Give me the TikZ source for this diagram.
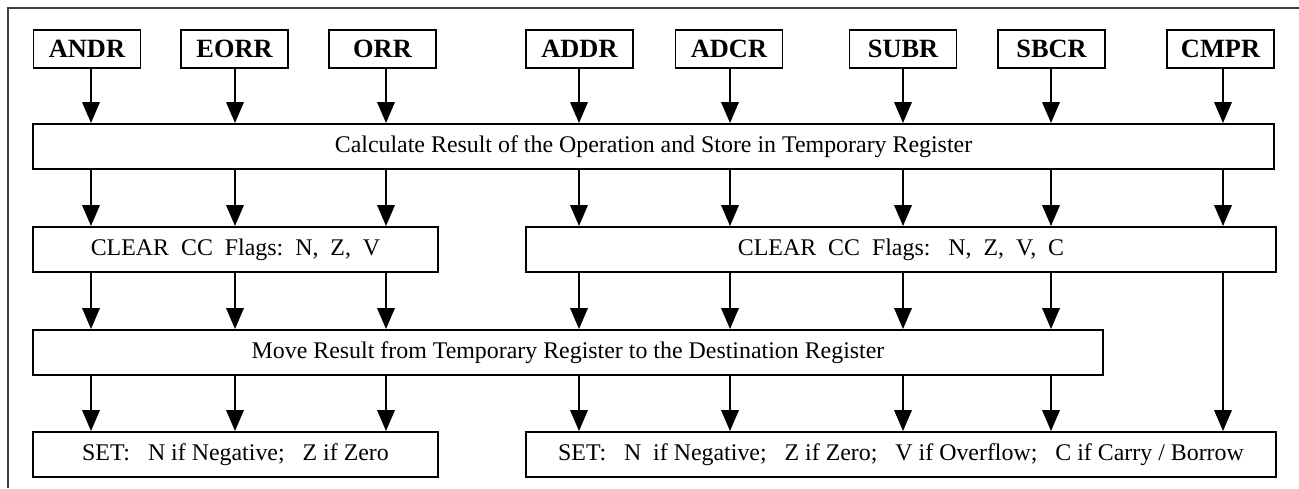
\documentclass[tikz,border=0pt]{standalone}
\usepackage{fontspec}
\setmainfont{Liberation Serif}
\usetikzlibrary{arrows.meta}

\tikzset{
  opbox/.style={draw, line width=1.1pt, font=\fontsize{15}{18}\selectfont\bfseries,
    minimum width=2.14cm, minimum height=0.76cm, inner sep=0pt},
  stagebox/.style={draw, line width=1.1pt, font=\fontsize{13.6}{16}\selectfont,
    minimum height=0.9cm, inner sep=0pt},
  flow/.style={-{Triangle[length=4.2mm,width=3.5mm]}, line width=1.1pt}
}

\begin{document}
\begin{tikzpicture}[x=0.02cm, y=-0.02cm]
  \useasboundingbox (0,0) rectangle (1299,488);
  % Frame
  \draw[black!75, line width=0.6pt] (8,488) -- (8,8) -- (1299,8);
  % Instruction boxes
  \node[opbox] (andr) at (87,49) {ANDR};
  \node[opbox] (eorr) at (234.5,49) {EORR};
  \node[opbox] (orr) at (382.5,49) {ORR};
  \node[opbox] (addr) at (579.5,49) {ADDR};
  \node[opbox] (adcr) at (729,49) {ADCR};
  \node[opbox] (subr) at (903,49) {SUBR};
  \node[opbox] (sbcr) at (1051.5,49) {SBCR};
  \node[opbox] (cmpr) at (1220.5,49) {CMPR};
  % Stages
  \node[stagebox, minimum width=24.82cm] (calc) at (653.5,146.5)
    {Calculate Result of the Operation and Store in Temporary Register};
  \node[stagebox, minimum width=8.1cm] (clearL) at (235.5,249.5)
    {CLEAR\ \ CC\ \ Flags:\ \ N,\ \ Z,\ \ V};
  \node[stagebox, minimum width=15cm] (clearR) at (901,249.5)
    {CLEAR\ \ CC\ \ Flags:\ \ \ N,\ \ Z,\ \ V,\ \ C};
  \node[stagebox, minimum width=21.4cm] (move) at (568,352.5)
    {Move Result from Temporary Register to the Destination Register};
  \node[stagebox, minimum width=8.1cm] (setL) at (235.5,454.5)
    {SET:\ \ \ N if Negative;\ \ \ Z if Zero};
  \node[stagebox, minimum width=15cm] (setR) at (901,454.5)
    {SET:\ \ \ N\ \ if Negative;\ \ \ Z if Zero;\ \ \ V if Overflow;\ \ \ C if Carry / Borrow};
  % Columns
  \foreach \c [count=\i] in {91,235,386,579,730,903,1051,1223}
    \coordinate (col\i) at (\c,0);
  % Arrows
  \foreach \op [count=\i] in {andr,eorr,orr,addr,adcr,subr,sbcr,cmpr}
    \draw[flow] (\op.south -| col\i) -- (calc.north -| col\i);
  \foreach \i in {1,2,3} {
    \draw[flow] (calc.south -| col\i) -- (clearL.north -| col\i);
    \draw[flow] (clearL.south -| col\i) -- (move.north -| col\i);
    \draw[flow] (move.south -| col\i) -- (setL.north -| col\i);
  }
  \foreach \i in {4,...,7} {
    \draw[flow] (calc.south -| col\i) -- (clearR.north -| col\i);
    \draw[flow] (clearR.south -| col\i) -- (move.north -| col\i);
    \draw[flow] (move.south -| col\i) -- (setR.north -| col\i);
  }
  \draw[flow] (calc.south -| col8) -- (clearR.north -| col8);
  \draw[flow] (clearR.south -| col8) -- (setR.north -| col8);
\end{tikzpicture}
\end{document}
